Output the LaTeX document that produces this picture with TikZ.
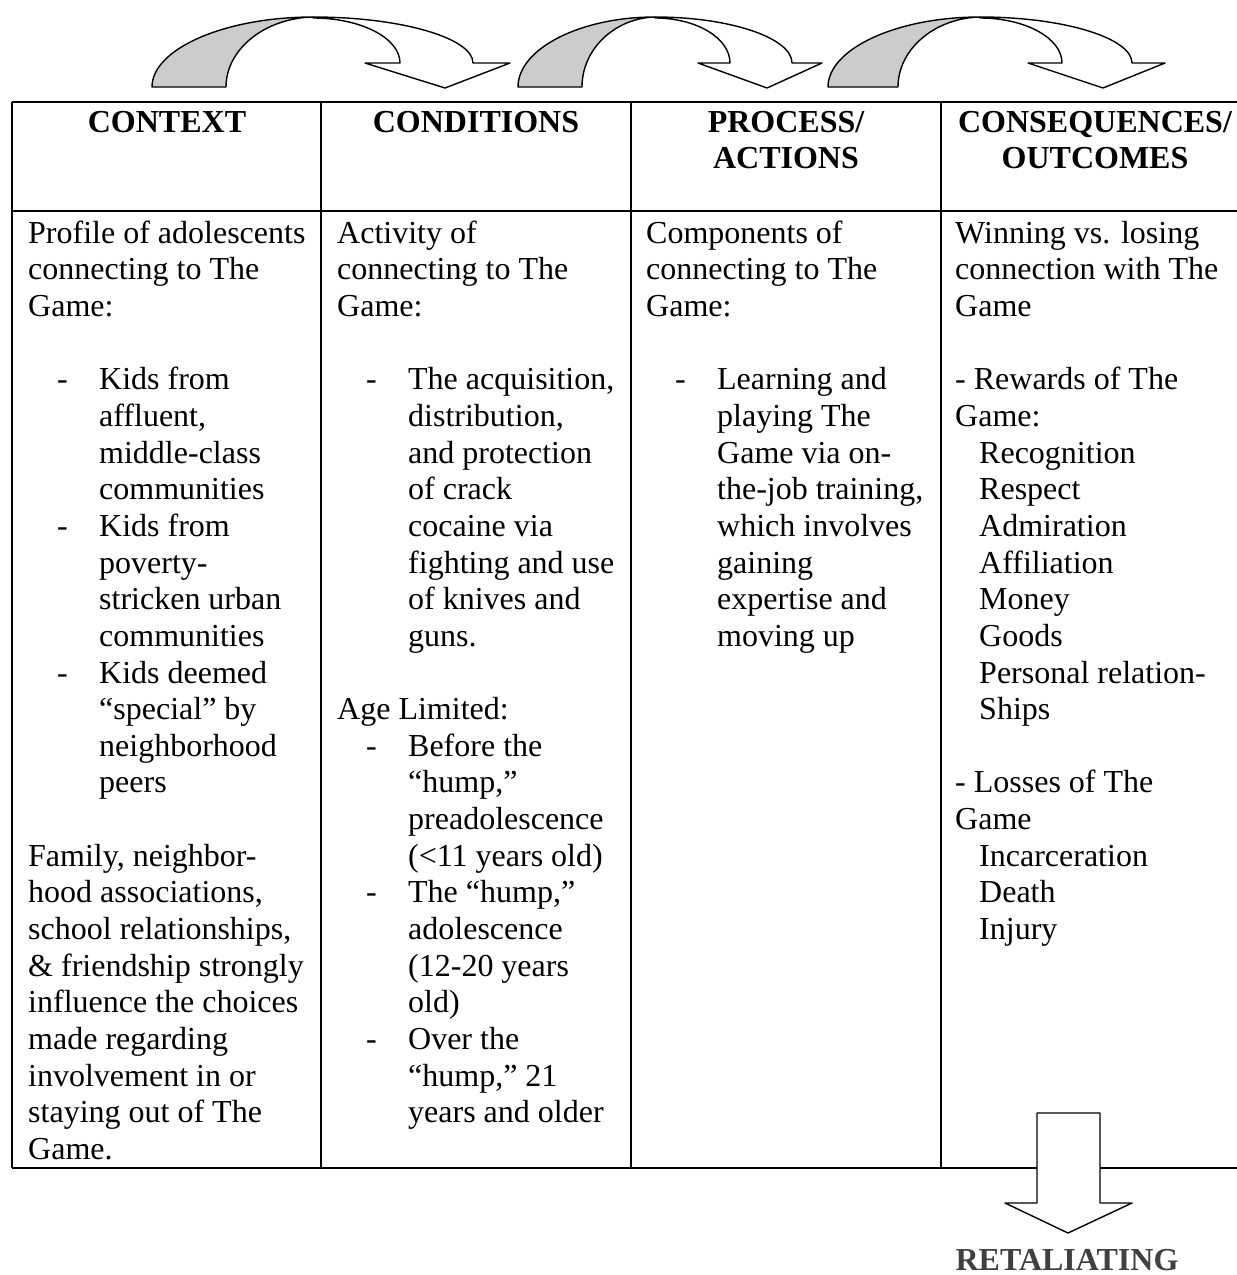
\documentclass[tikz,border=0pt]{standalone}
\usepackage{fontspec}
\setmainfont{Liberation Serif}
\newcommand\bodyfont{\fontsize{32}{36.65}\selectfont}
% dash item and its hanging lines
\newcommand\dashline[1]{\makebox[71pt][l]{\hspace*{29pt}-}#1}
\newcommand\hang[1]{\hspace*{71pt}#1}
\newcommand\subline[1]{\hspace*{24pt}#1}
% curved block arrow: base left, base right, peak, inner notch, left wing, tip, right wing, outer notch
\newcommand\curvedarrow[8]{%
  \filldraw[fill=black!20] (#1,87) .. controls (#1,49) and ({#3-0.55*(#3-#1)},17) .. (#3,17)
    .. controls ({#3-0.55*(#3-#2)},18) and (#2,49) .. (#2,87) -- cycle;
  \filldraw[fill=white] (#3,17) .. controls ({#3+0.55*(#8-#3)},17) and (#8,38) .. (#8,63)
    -- (#7,63) -- (#6,88) -- (#5,63) -- (#4,63)
    .. controls (#4,38) and ({#3+0.55*(#4-#3)},18) .. (#3,18) -- cycle;
}
\tikzset{
  rule/.style={line width=1.6pt},
  headcell/.style={anchor=north, inner sep=0pt, align=center, font=\bodyfont\bfseries},
  bodycell/.style={anchor=north west, inner sep=0pt, align=left, font=\bodyfont},
}
\begin{document}
\begin{tikzpicture}[x=1pt,y=-1pt,line join=round]
\useasboundingbox (0,0) rectangle (1237,1275);
% arrows on top
\begin{scope}[line width=1.4pt]
\curvedarrow{152}{226}{313}{400}{365}{445}{510}{473}
\curvedarrow{518}{582}{655}{730}{698}{767}{822}{792}
\curvedarrow{828}{898}{980}{1062}{1028}{1103}{1165}{1132}
\end{scope}
% table rules
\draw[rule] (12,102) -- (1237,102);
\draw[rule] (12,211) -- (1237,211);
\draw[rule] (12,1168) -- (1237,1168);
\foreach \x in {12,321,631,941}
  \draw[rule] (\x,102) -- (\x,1168);
% headers
\node[headcell] (hctx) at (167,106.4) {\strut CONTEXT};
\node[headcell] (hcond) at (476,106.4) {\strut CONDITIONS};
\node[headcell] (hproc) at (786,106.4) {\strut PROCESS/\\ACTIONS};
\node[headcell] (hcons) at (1095,106.4) {\strut CONSEQUENCES/\\OUTCOMES};
% body cells
\node[bodycell] (context) at (28,217.35) {\strut Profile of adolescents\\
  connecting to The\\
  Game:\\[36.65pt]
  \dashline{Kids from}\\
  \hang{affluent,}\\
  \hang{middle-class}\\
  \hang{communities}\\
  \dashline{Kids from}\\
  \hang{poverty-}\\
  \hang{stricken urban}\\
  \hang{communities}\\
  \dashline{Kids deemed}\\
  \hang{“special” by}\\
  \hang{neighborhood}\\
  \hang{peers}\\[36.65pt]
  Family, neighbor-\\
  hood associations,\\
  school relationships,\\
  \& friendship strongly\\
  influence the choices\\
  made regarding\\
  involvement in or\\
  staying out of The\\
  Game.};
\node[bodycell] (conditions) at (337,217.35) {\strut Activity of\\
  connecting to The\\
  Game:\\[36.65pt]
  \dashline{The acquisition,}\\
  \hang{distribution,}\\
  \hang{and protection}\\
  \hang{of crack}\\
  \hang{cocaine via}\\
  \hang{fighting and use}\\
  \hang{of knives and}\\
  \hang{guns.}\\[36.65pt]
  Age Limited:\\
  \dashline{Before the}\\
  \hang{“hump,”}\\
  \hang{preadolescence}\\
  \hang{(<11 years old)}\\
  \dashline{The “hump,”}\\
  \hang{adolescence}\\
  \hang{(12-20 years}\\
  \hang{old)}\\
  \dashline{Over the}\\
  \hang{“hump,” 21}\\
  \hang{years and older}};
\node[bodycell] (process) at (646,217.35) {\strut Components of\\
  connecting to The\\
  Game:\\[36.65pt]
  \dashline{Learning and}\\
  \hang{playing The}\\
  \hang{Game via on-}\\
  \hang{the-job training,}\\
  \hang{which involves}\\
  \hang{gaining}\\
  \hang{expertise and}\\
  \hang{moving up}};
\node[bodycell] (outcomes) at (955,217.35) {\strut Winning vs. losing\\
  connection with The\\
  Game\\[36.65pt]
  - Rewards of The\\
  Game:\\
  \subline{Recognition}\\
  \subline{Respect}\\
  \subline{Admiration}\\
  \subline{Affiliation}\\
  \subline{Money}\\
  \subline{Goods}\\
  \subline{Personal relation-}\\
  \subline{Ships}\\[36.65pt]
  - Losses of The\\
  Game\\
  \subline{Incarceration}\\
  \subline{Death}\\
  \subline{Injury}};
% down arrow to the last step
\node[font=\bodyfont\bfseries, text=black!75, anchor=base, inner sep=0pt] (retal) at (1067,1270) {RETALIATING};
\filldraw[fill=white, line width=1.4pt] (1037,1113) -- (1037,1203) -- (1005,1203)
  -- (1068,1233) -- (1132,1203) -- (1100,1203) -- (1100,1113) -- cycle;
\end{tikzpicture}
\end{document}
